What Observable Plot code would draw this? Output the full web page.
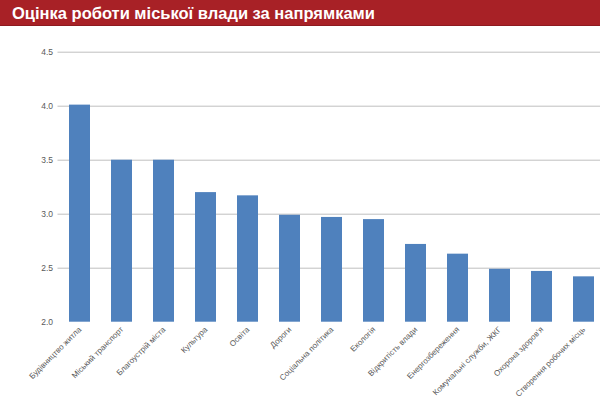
<!DOCTYPE html>
<html>
<head>
<meta charset="utf-8">
<script src="https://cdn.jsdelivr.net/npm/d3@7"></script>
<script src="https://cdn.jsdelivr.net/npm/@observablehq/plot@0.6"></script>
<style>
  html, body { margin: 0; padding: 0; background: #fff; }
  #title {
    width: 600px; height: 26px; background: #a82126;
    border-bottom: 1px solid #8e1a1f;
    color: #fff; font-family: "Liberation Sans", Arial, sans-serif;
    font-weight: bold; font-size: 16.5px; line-height: 26px;
    padding-left: 12px; box-sizing: border-box; white-space: nowrap;
  }
  #chart svg { display: block; }
</style>
</head>
<body>
<div id="title">Оцінка роботи міської влади за напрямками</div>
<div id="chart"></div>
<script>
const categories = [
  "Будівництво житла", "Міський транспорт", "Благоустрій міста", "Культура",
  "Освіта", "Дороги", "Соціальна політика", "Екологія", "Відкритість влади",
  "Енергозбереження", "Комунальні служби, ЖКГ", "Охорона здоров’я",
  "Створення робочих місць"
];
const values = [4.01, 3.50, 3.50, 3.20, 3.17, 2.99, 2.97, 2.95, 2.72, 2.63, 2.49, 2.47, 2.42];
const yTicks = [2.0, 2.5, 3.0, 3.5, 4.0, 4.5];
const gridTicks = [2.5, 3.0, 3.5, 4.0, 4.5];
const yBase = 2.0;

const data = categories.map((c, i) => ({category: c, value: values[i]}));

const chart = Plot.plot({
  width: 600,
  height: 387,
  marginTop: 25.7,
  marginBottom: 91.3,
  marginLeft: 57.5,
  marginRight: 0,
  style: {fontFamily: "Liberation Sans, Arial, sans-serif", background: "#fff"},
  x: {domain: categories, range: [57.5, 604.8], paddingInner: 0.5, paddingOuter: 0.25, axis: null},
  y: {domain: [2, 4.5], axis: null},
  marks: [
    Plot.gridY(gridTicks, {stroke: "#bfbfbf", strokeOpacity: 1, strokeWidth: 1}),
    Plot.barY(data, {x: "category", y1: yBase, y2: "value", fill: "#4f81bd"}),
    Plot.axisY(yTicks, {tickSize: 0, tickPadding: 5, tickFormat: d3.format(".1f"), label: null,
      fontSize: 8.5, fill: "#595959"}),
    Plot.axisX({tickSize: 0, tickPadding: 6, tickRotate: -45, label: null,
      fontSize: 8, fill: "#595959"})
  ]
});
document.getElementById("chart").appendChild(chart);
</script>
</body>
</html>
